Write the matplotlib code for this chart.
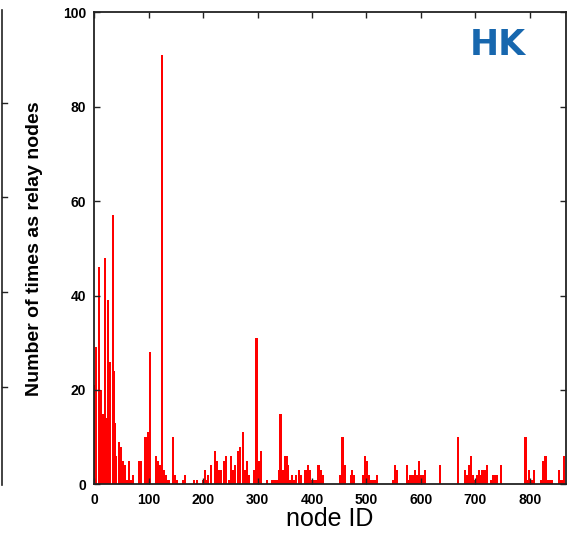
import matplotlib
matplotlib.use('Agg')
import matplotlib.pyplot as plt
from matplotlib.lines import Line2D

# node IDs with a non-zero count, and the counts
node_ids = [0, 3, 8, 12, 15, 19, 22, 25, 29, 34, 36, 38, 40, 45, 49, 52, 57, 60,
            64, 68, 71, 82, 86, 94, 98, 103, 113, 116, 120, 125, 128, 131, 134,
            137, 144, 148, 151, 163, 167, 183, 189, 199, 203, 206, 209, 214, 222,
            226, 230, 233, 238, 242, 247, 251, 255, 258, 264, 268, 273, 276, 281,
            284, 294, 298, 302, 306, 318, 327, 331, 335, 339, 342, 346, 350, 353,
            356, 359, 363, 367, 371, 376, 380, 388, 392, 396, 400, 404, 407, 412,
            416, 420, 452, 456, 460, 471, 474, 477, 494, 497, 501, 504, 507, 511,
            515, 519, 548, 552, 555, 574, 578, 581, 585, 589, 592, 596, 600, 603,
            608, 635, 668, 681, 685, 688, 692, 696, 700, 703, 706, 710, 713, 717,
            721, 728, 732, 736, 740, 747, 792, 796, 799, 803, 808, 820, 824, 829,
            833, 837, 841, 853, 856, 859, 863]
relay_counts = [21, 29, 46, 20, 15, 48, 14, 39, 26, 57, 24, 13, 6, 9, 8, 5, 4, 1,
                5, 1, 2, 5, 5, 10, 11, 28, 6, 5, 4, 91, 3, 2, 1,
                1, 10, 2, 1, 1, 2, 1, 1, 1, 3, 1, 2, 4, 7,
                5, 3, 3, 5, 6, 1, 6, 3, 4, 7, 8, 11, 3, 5,
                2, 3, 31, 5, 7, 1, 1, 1, 1, 3, 15, 3, 6, 6,
                4, 1, 2, 1, 2, 3, 2, 3, 4, 3, 1, 1, 1, 4,
                3, 2, 2, 10, 4, 2, 3, 2, 2, 6, 5, 2, 1, 1,
                1, 2, 1, 4, 3, 4, 1, 2, 2, 3, 2, 5, 2, 2,
                3, 4, 10, 3, 2, 4, 6, 2, 1, 2, 3, 2, 3, 3,
                4, 1, 2, 2, 2, 4, 10, 1, 3, 1, 3, 1, 5, 6,
                1, 1, 1, 3, 1, 1, 6]

x_ticks = [0, 100, 200, 300, 400, 500, 600, 700, 800]
y_ticks = [0, 20, 40, 60, 80, 100]


def main():
    fig = plt.figure(figsize=(5.68, 5.34), dpi=100)
    ax = fig.add_axes([0.166, 0.093, 0.830, 0.884])

    ax.bar(node_ids, relay_counts, width=4, color='#ff0000', linewidth=0)

    ax.set_xlim(0, 866)
    ax.set_ylim(0, 100)
    ax.set_xticks(x_ticks)
    ax.set_yticks(y_ticks)

    for s in ax.spines.values():
        s.set_color('#222222')
        s.set_linewidth(1.3)
    ax.tick_params(direction='in', length=4, width=1, color='#222222',
                   top=True, right=True, labelsize=10, pad=6)
    for lab in ax.get_xticklabels() + ax.get_yticklabels():
        lab.set_fontweight('bold')
        lab.set_fontfamily('Liberation Sans')

    ax.set_xlabel('node ID', fontsize=18, family='Liberation Sans', labelpad=0)
    ax.set_ylabel('Number of times as relay nodes', fontsize=14,
                  fontweight='bold', family='Liberation Sans', labelpad=14)

    ax.text(0.855, 0.93, 'HK', transform=ax.transAxes, ha='center', va='center',
            fontsize=25, fontweight='bold', color='#1767ae', family='DejaVu Sans')

    # edge of the neighbouring panel, cut off at the left
    W, H = 568.0, 534.0
    fig.add_artist(Line2D([2 / W, 2 / W], [1 - 10 / H, 1 - 485 / H],
                          color='#222222', lw=1.2))
    for yy in [103, 197, 292, 387]:
        fig.add_artist(Line2D([2 / W, 7 / W], [1 - yy / H, 1 - yy / H],
                              color='#222222', lw=1))

    fig.savefig('out.png', dpi=100)


if __name__ == '__main__':
    main()
